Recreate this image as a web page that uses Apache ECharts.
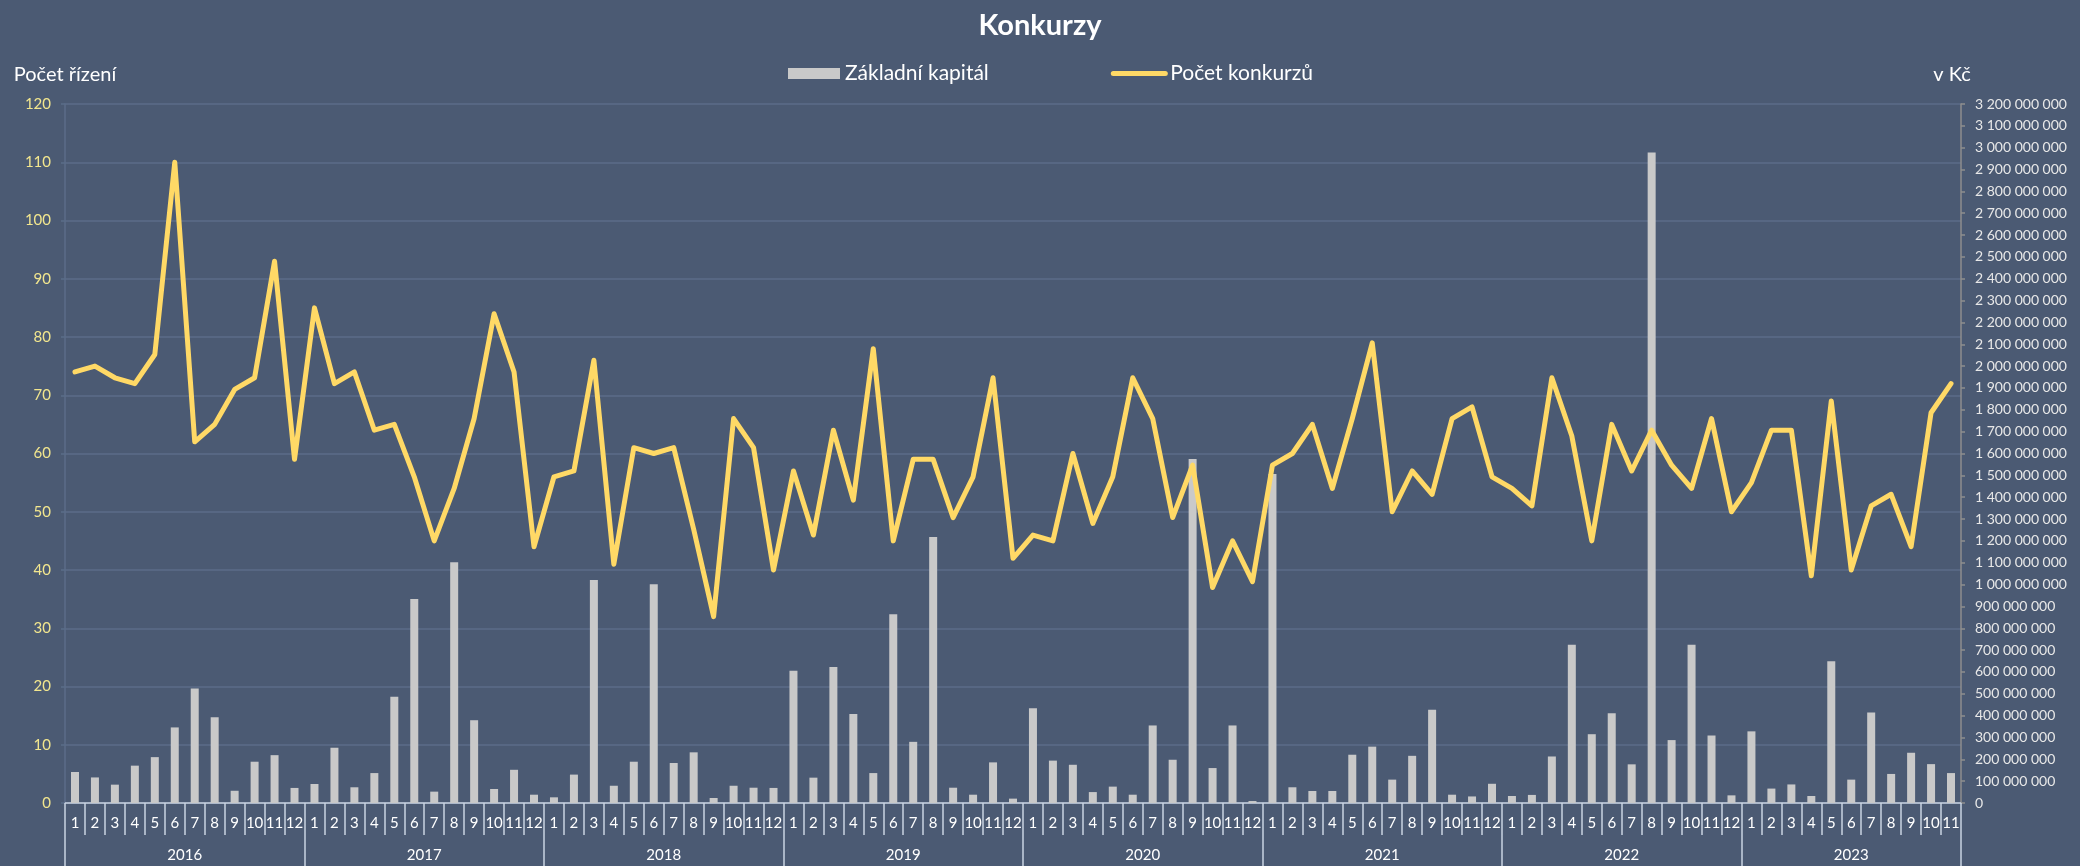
<!DOCTYPE html>
<html>
<head>
<meta charset="utf-8">
<title>Konkurzy</title>
<script src="https://cdn.jsdelivr.net/npm/echarts@6/dist/echarts.min.js"></script>
<style>
  html, body { margin: 0; padding: 0; background: #4b5a73; }
  #chart { width: 2080px; height: 866px; }
</style>
</head>
<body>
<div id="chart"></div>
<script>
// roky a počet měsíců v posledním roce
const years = ['2016', '2017', '2018', '2019', '2020', '2021', '2022', '2023'];
const lastYearMonths = 11;

// Počet konkurzů (levá osa)
const pocetKonkurzu = [
  74, 75, 73, 72, 77, 110, 62, 65, 71, 73, 93, 59,
  85, 72, 74, 64, 65, 56, 45, 54, 66, 84, 74, 44,
  56, 57, 76, 41, 61, 60, 61, 47, 32, 66, 61, 40,
  57, 46, 64, 52, 78, 45, 59, 59, 49, 56, 73, 42,
  46, 45, 60, 48, 56, 73, 66, 49, 58, 37, 45, 38,
  58, 60, 65, 54, 66, 79, 50, 57, 53, 66, 68, 56,
  54, 51, 73, 63, 45, 65, 57, 64, 58, 54, 66, 50,
  55, 64, 64, 39, 69, 40, 51, 53, 44, 67, 72
];

// Základní kapitál v mil. Kč (pravá osa)
const kapitalMil = [
  142, 117, 84, 171, 210, 346, 524, 393, 56, 189, 219, 69,
  87, 253, 72, 137, 486, 934, 52, 1102, 379, 64, 152, 38,
  26, 130, 1021, 79, 189, 1001, 183, 232, 23, 79, 70, 69,
  605, 116, 623, 408, 137, 864, 280, 1218, 70, 38, 186, 20,
  434, 194, 175, 50, 75, 38, 355, 198, 1575, 160, 355, 9,
  1506, 72, 55, 55, 221, 258, 107, 216, 427, 38, 30, 88,
  32, 37, 213, 724, 315, 411, 177, 2978, 288, 724, 309, 35,
  328, 66, 85, 32, 649, 107, 414, 133, 230, 178, 137
];

// popisky osy x: měsíce a k nim roky
const monthLabels = [];
const yearLabels = [];
years.forEach((y, yi) => {
  const n = yi === years.length - 1 ? lastYearMonths : 12;
  for (let m = 1; m <= n; m++) {
    monthLabels.push(String(m));
    yearLabels.push(y);
  }
});

const FONT = 'Lato';
const gridColor = '#5b6d89';
const sepColor = '#c9d3e2';

const chart = echarts.init(document.getElementById('chart'));

const option = {
  backgroundColor: '#4b5a73',
  animation: false,
  textStyle: { fontFamily: FONT },
  title: {
    text: 'Konkurzy',
    left: 'center',
    top: 6,
    textStyle: { color: '#ffffff', fontSize: 29, fontWeight: 'bold', fontFamily: FONT }
  },
  legend: {
    top: 58,
    left: 783,
    itemWidth: 52,
    itemHeight: 11,
    itemGap: 122,
    textStyle: { color: '#ffffff', fontSize: 21, fontFamily: FONT },
    data: [
      { name: 'Základní kapitál', icon: 'rect' },
      {
        name: 'Počet konkurzů',
        itemStyle: { opacity: 0 },
        lineStyle: { width: 5, color: '#ffd966', cap: 'round' }
      }
    ]
  },
  grid: { left: 65, right: 119, top: 104, bottom: 63 },
  xAxis: [
    {
      type: 'category',
      data: monthLabels,
      position: 'bottom',
      axisLine: { lineStyle: { color: sepColor, width: 1.5 } },
      axisTick: { show: true, interval: 0, length: 32, lineStyle: { color: sepColor, width: 1.5 } },
      axisLabel: { interval: 0, margin: 13, color: '#ffffff', fontSize: 15, fontFamily: FONT },
      splitLine: { show: false }
    },
    {
      type: 'category',
      data: yearLabels,
      position: 'bottom',
      axisLine: { show: false },
      axisTick: {
        show: true,
        length: 63,
        interval: (i) => i % 12 === 0,
        lineStyle: { color: sepColor, width: 1.5 }
      },
      axisLabel: {
        margin: 45,
        interval: (i) => monthLabels[i] === '6',
        formatter: (v, i) => (i + 12 <= monthLabels.length ? '{full|' + v + '}' : '{part|' + v + '}'),
        rich: {
          full: { color: '#ffffff', fontSize: 15, fontFamily: FONT, padding: [0, 0, 0, 20] },
          part: { color: '#ffffff', fontSize: 15, fontFamily: FONT }
        }
      },
      splitLine: { show: false }
    }
  ],
  yAxis: [
    {
      type: 'value',
      name: 'Počet řízení',
      nameGap: 19,
      nameTextStyle: { color: '#ffffff', fontSize: 20, fontFamily: FONT },
      min: 0,
      max: 120,
      interval: 10,
      axisLine: { show: true, lineStyle: { color: gridColor, width: 1.5 } },
      axisTick: { show: true, length: 4, lineStyle: { color: gridColor, width: 1.5 } },
      axisLabel: { color: '#f2e68e', fontSize: 15, margin: 14, fontFamily: FONT },
      splitLine: { lineStyle: { color: gridColor, width: 1.5 } }
    },
    {
      type: 'value',
      name: 'v Kč',
      nameGap: 19,
      nameTextStyle: { color: '#ffffff', fontSize: 20, fontFamily: FONT, padding: [0, 18, 0, 0] },
      min: 0,
      max: 3200000000,
      interval: 100000000,
      axisLine: { show: true, lineStyle: { color: '#8e8e8e', width: 1.5 } },
      axisTick: { show: true, length: 4, lineStyle: { color: '#8e8e8e', width: 1.5 } },
      axisLabel: {
        color: '#e8e8e8',
        fontSize: 14,
        margin: 14,
        fontFamily: FONT,
        formatter: (v) => String(v).replace(/\B(?=(\d{3})+(?!\d))/g, ' ')
      },
      splitLine: { show: false }
    }
  ],
  series: [
    {
      name: 'Základní kapitál',
      type: 'bar',
      xAxisIndex: 0,
      yAxisIndex: 1,
      barWidth: 8,
      itemStyle: { color: '#c9c9c9' },
      data: kapitalMil.map(v => v * 1000000)
    },
    {
      name: 'Počet konkurzů',
      type: 'line',
      xAxisIndex: 0,
      yAxisIndex: 0,
      symbol: 'none',
      lineStyle: { color: '#ffd966', width: 5, join: 'round', cap: 'round' },
      itemStyle: { color: '#ffd966' },
      data: pocetKonkurzu
    }
  ]
};

chart.setOption(option);
</script>
</body>
</html>
